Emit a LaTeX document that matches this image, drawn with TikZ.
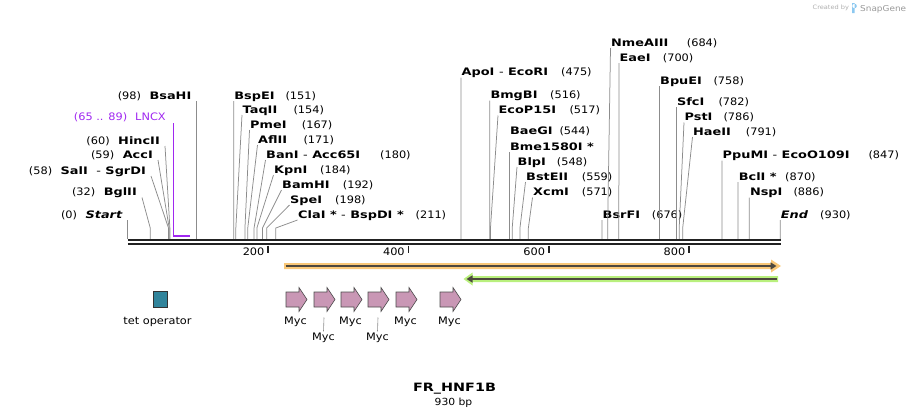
\documentclass[tikz,border=0pt]{standalone}
\usepackage{fontspec}
\setmainfont[FakeStretch=1.1]{DejaVu Sans}
\newfontfamily\enzfont[FakeStretch=1.25]{DejaVu Sans}
\usetikzlibrary{calc,arrows.meta,positioning}
\definecolor{mapBlack}{RGB}{34,34,34}
\definecolor{siteGray}{RGB}{140,140,140}
\definecolor{lncxPurple}{RGB}{160,40,240}
\definecolor{orfOrange}{RGB}{250,200,120}
\definecolor{orfGreen}{RGB}{185,240,125}
\definecolor{orfDark}{RGB}{78,72,62}
\definecolor{mycPink}{RGB}{201,151,181}
\definecolor{tetTeal}{RGB}{49,132,155}
\definecolor{sgGray}{RGB}{175,175,175}
\definecolor{sgBlue}{RGB}{140,200,240}
\newcommand{\enz}[1]{{\enzfont\bfseries #1}}
\newcommand{\hy}{\textmd{-}}
\newcommand{\bpx}[1]{127.8+0.7015*#1}

\begin{document}
\begin{tikzpicture}[x=1pt,y=-1pt,
  every node/.style={font=\fontsize{10.3}{12}\selectfont},
  siteln/.style={draw=siteGray, line width=0.75pt},
  rlbl/.style={anchor=base west, inner xsep=0.5pt, inner ysep=1pt},
  llbl/.style={anchor=base east, inner xsep=5pt, inner ysep=1pt},
  mapln/.style={draw=mapBlack, line width=2.3pt},
  tickln/.style={draw=mapBlack, line width=1.6pt},
  mycarrow/.style={draw=black!70, fill=mycPink, line width=0.6pt, line join=miter},
  featlbl/.style={anchor=base, inner sep=1pt}]
\useasboundingbox (0,0) rectangle (910,418);

% enzyme sites, labels to the right (site / top x / baseline / number x / name / number)
\foreach \b/\tx/\by/\nx/\nm/\num [count=\i] in {
  151/233.7/99/285.3/BspEI/151, 154/242/113/293.3/TaqII/154,
  167/249.5/128/301.7/PmeI/167, 171/257.5/143/303.3/AflII/171,
  180/265.5/158/380/BanI \hy{} Acc65I/180, 184/273.5/173/320/KpnI/184,
  192/281.5/188/342.7/BamHI/192, 198/289.5/203/335/SpeI/198,
  211/297.5/218/415.5/ClaI * \hy{} BspDI */211,
  475/461/75.5/561/ApoI \hy{} EcoRI/475, 516/489.8/98.5/550/BmgBI/516,
  517/498/113.5/569.3/EcoP15I/517, 548/517/165/556.7/BlpI/548,
  559/525.5/180/581.7/BstEII/559, 571/532.5/195.5/581.7/XcmI/571,
  676/602/218/651.7/BsrFI/676, 684/610.5/46/686.7/NmeAIII/684,
  700/618.9/61/662.7/EaeI/700, 758/659.5/84/713.3/BpuEI/758,
  782/676.4/105/718.3/SfcI/782, 786/684/120.5/723.3/PstI/786,
  791/692.5/135/745.7/HaeII/791, 847/722/158.5/868.3/PpuMI \hy{} EcoO109I/847,
  870/738.1/180/785/BclI */870, 886/749.3/195.5/793.3/NspI/886,
  930/780.2/218/820/\textit{End}/930} {
  \pgfmathsetmacro\nw{\nx-\tx-0.5}
  \coordinate (rs\i) at ({\bpx{\b}},239);
  \node[rlbl] (rl\i) at (\tx,\by) {\makebox[\nw pt][l]{\enz{\nm}}(\num)};
  \draw[siteln] (rs\i) -- ++(0,-11) -- ([yshift=-2pt]rl\i.base west);
}

% BaeGI / Bme1580I share one cut
\coordinate (bmes) at ({\bpx{544}},239);
\node[rlbl] (bme) at ({\bpx{544}},150) {\enz{Bme1580I *}};
\node[rlbl] (baegi) at ({\bpx{544}},134) {\makebox[49.4pt][l]{\enz{BaeGI}}(544)};
\draw[siteln] (bmes) -- ([yshift=-2pt]bme.base west);

% enzyme sites, labels to the left
\foreach \b/\tx/\by/\nm/\num [count=\i] in {
  0/127.8/218/\textit{Start}/0, 32/142/195.5/BglII/32,
  58/151/174/SalI\hspace{4pt} \hy{} SgrDI/58, 59/158/158/AccI/59,
  60/165/144/HincII/60, 98/196.5/99/BsaHI/98} {
  \coordinate (ls\i) at ({\bpx{\b}},239);
  \node[llbl] (ll\i) at (\tx,\by) {(\num)\hspace{8.5pt}\enz{\nm}};
  \draw[siteln] (ls\i) -- ++(0,-11) -- ([yshift=-2pt]ll\i.base east);
}

% LNCX
\coordinate (lncxa) at ({\bpx{65}},236);
\coordinate (lncxb) at ({\bpx{89}},236);
\node[llbl, inner xsep=7.5pt, text=lncxPurple] (lncx) at ({\bpx{65}},120.5) {(65 .. 89)\hspace{8pt}LNCX};
\draw[lncxPurple, line width=1.3pt] (lncxa) -- ([yshift=-2pt]lncx.base east);
\draw[lncxPurple, line width=2pt] (lncxa) -- (lncxb);

% map
\draw[mapln] (127.8,240) -- (781,240);
\draw[mapln] (127.8,243.8) -- (781,243.8);
\foreach \t in {200,400,600,800} {
  \draw[tickln] ({\bpx{\t}},245.5) -- ++(0,7);
  \node[anchor=base east, inner xsep=3.5pt] (tick\t) at ({\bpx{\t}},255.5) {\t};
}

% features
\fill[orfOrange] (284,263) -- (771,263) -- (771,259.5) -- (781,266) -- (771,272.5) -- (771,269) -- (284,269) -- cycle;
\draw[orfDark, line width=2pt, -{Triangle[length=6pt,width=7pt]}] (285.5,266) -- (776.5,266);
\fill[orfGreen] (778,276) -- (472.5,276) -- (472.5,272.5) -- (463.5,279) -- (472.5,285.5) -- (472.5,282) -- (778,282) -- cycle;
\draw[orfDark, line width=2pt, -{Triangle[length=6pt,width=7pt]}] (776.5,279) -- (466.5,279);

\node[draw=black!80, fill=tetTeal, line width=1pt, minimum width=14pt, minimum height=16pt, inner sep=0pt] (tet) at (160.5,299.8) {};
\node[featlbl] (tetlbl) at (157.5,324) {tet operator};

\foreach \x/\row [count=\i] in {286/324, 314/340, 341/324, 368/340, 396/324, 440/324} {
  \draw[mycarrow] (\x,292) -- ++(13,0) -- ++(0,-4.5) -- ++(8,12) -- ++(-8,12) -- ++(0,-4.5) -- ++(-13,0) -- cycle;
  \coordinate (myc\i) at ({\x+10},317.5);
  \node[featlbl] (myclbl\i) at ({\x+9.5},\row) {Myc};
}
\draw[siteGray, line width=0.6pt] (myc2) -- (myclbl2.north);
\draw[siteGray, line width=0.6pt] (myc4) -- (myclbl4.north);

% title
\node[anchor=base, font=\fontsize{11.5}{13}\selectfont] (title) at (454.5,391) {\enz{FR\_HNF1B}};
\node[anchor=base, font=\fontsize{9.8}{11}\selectfont] (len) at (453.5,405.5) {930 bp};

% credit
\node[anchor=base west, inner sep=0pt, text=sgGray, font=\fontsize{6}{7}\selectfont] (credit) at (812.5,9.5) {Created by};
\fill[sgBlue] (852,3) rectangle (854.5,13) (854.5,6) circle (2.3);
\node[anchor=base west, inner sep=0pt, text=black!40, font=\fontsize{8.1}{9}\selectfont] (sg) at (860,11) {SnapGene};
\end{tikzpicture}
\end{document}
